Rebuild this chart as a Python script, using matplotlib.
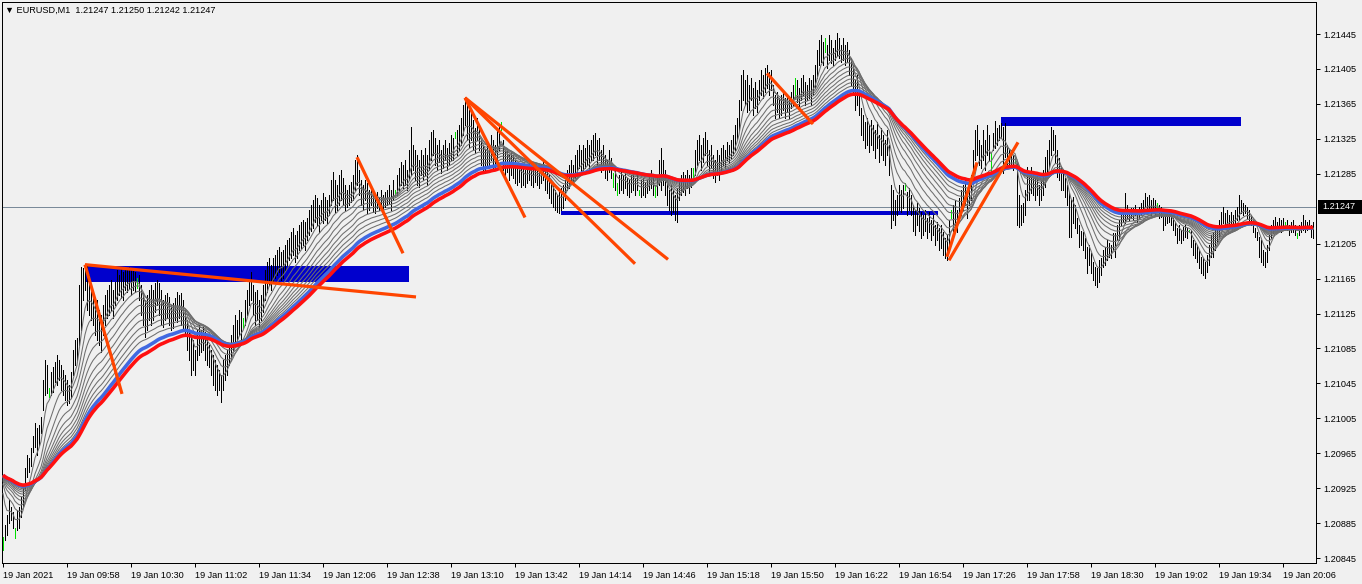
import numpy as np
import matplotlib
matplotlib.use("Agg")
import matplotlib.pyplot as plt
from matplotlib.patches import Rectangle
import matplotlib.transforms as mtransforms

# ---------------- data ----------------
TITLE = "\u25BC EURUSD,M1  1.21247 1.21250 1.21242 1.21247"
BID = 1.21247
PRICE_BASE = 1.20000
POINT = 0.00001

# bar highs / lows in points above PRICE_BASE (one per M1 bar, 09:26 ... 20:21)
HIGH_PTS = [
    869, 883, 894, 911, 903, 898, 879, 900, 903, 915,
    926, 948, 963, 960, 971, 985, 1000, 994, 997, 1006,
    1049, 1072, 1066, 1040, 1058, 1064, 1069, 1077, 1072, 1066,
    1060, 1055, 1049, 1043, 1058, 1083, 1095, 1097, 1158, 1178,
    1177, 1182, 1181, 1169, 1152, 1146, 1135, 1140, 1129, 1123,
    1135, 1146, 1152, 1158, 1163, 1152, 1161, 1175, 1169, 1177,
    1173, 1177, 1175, 1178, 1175, 1177, 1173, 1166, 1169, 1158,
    1148, 1140, 1146, 1152, 1158, 1152, 1160, 1163, 1160, 1152,
    1140, 1146, 1148, 1144, 1135, 1137, 1143, 1150, 1146, 1148,
    1140, 1129, 1118, 1106, 1100, 1095, 1083, 1106, 1112, 1106,
    1110, 1104, 1100, 1089, 1083, 1077, 1072, 1066, 1060, 1055,
    1072, 1077, 1083, 1089, 1100, 1112, 1123, 1118, 1129, 1127,
    1120, 1140, 1152, 1163, 1173, 1158, 1150, 1152, 1140, 1146,
    1158, 1175, 1184, 1189, 1181, 1189, 1192, 1198, 1201, 1195,
    1198, 1203, 1209, 1211, 1218, 1223, 1215, 1220, 1226, 1230,
    1232, 1230, 1234, 1243, 1249, 1255, 1261, 1257, 1249, 1255,
    1263, 1258, 1255, 1261, 1278, 1287, 1278, 1272, 1284, 1289,
    1280, 1272, 1266, 1272, 1276, 1284, 1301, 1306, 1289, 1278,
    1272, 1278, 1274, 1266, 1272, 1266, 1261, 1264, 1258, 1266,
    1261, 1264, 1266, 1272, 1266, 1278, 1266, 1284, 1292, 1299,
    1295, 1301, 1289, 1312, 1339, 1318, 1312, 1306, 1301, 1312,
    1306, 1314, 1306, 1324, 1333, 1335, 1326, 1318, 1324, 1312,
    1318, 1324, 1314, 1320, 1329, 1326, 1333, 1335, 1341, 1349,
    1364, 1373, 1366, 1358, 1355, 1347, 1337, 1349, 1341, 1324,
    1318, 1312, 1321, 1314, 1329, 1324, 1318, 1335, 1341, 1344,
    1324, 1312, 1314, 1306, 1310, 1306, 1301, 1295, 1297, 1292,
    1295, 1289, 1295, 1297, 1292, 1289, 1295, 1292, 1289, 1295,
    1301, 1295, 1289, 1284, 1278, 1272, 1266, 1261, 1264, 1269,
    1272, 1278, 1289, 1295, 1301, 1295, 1306, 1312, 1318, 1312,
    1318, 1314, 1324, 1318, 1324, 1329, 1332, 1324, 1326, 1312,
    1318, 1306, 1301, 1312, 1303, 1286, 1289, 1274, 1284, 1287,
    1284, 1289, 1280, 1278, 1284, 1287, 1280, 1284, 1266, 1278,
    1280, 1276, 1278, 1284, 1289, 1284, 1272, 1280, 1301, 1315,
    1301, 1289, 1278, 1266, 1272, 1266, 1261, 1269, 1278, 1284,
    1287, 1284, 1289, 1284, 1292, 1292, 1312, 1324, 1329, 1318,
    1326, 1333, 1324, 1312, 1318, 1306, 1301, 1312, 1306, 1315,
    1318, 1312, 1321, 1318, 1324, 1329, 1341, 1349, 1369, 1398,
    1404, 1392, 1398, 1387, 1395, 1383, 1390, 1381, 1392, 1404,
    1398, 1406, 1410, 1402, 1404, 1387, 1375, 1379, 1372, 1375,
    1379, 1372, 1375, 1369, 1379, 1387, 1395, 1392, 1383, 1395,
    1398, 1390, 1387, 1395, 1392, 1398, 1410, 1427, 1438, 1444,
    1436, 1440, 1432, 1444, 1438, 1429, 1438, 1446, 1440, 1432,
    1440, 1432, 1436, 1427, 1418, 1410, 1392, 1398, 1381, 1360,
    1352, 1344, 1349, 1341, 1347, 1341, 1335, 1344, 1329, 1337,
    1329, 1324, 1335, 1318, 1272, 1266, 1255, 1261, 1272, 1266,
    1272, 1274, 1264, 1269, 1261, 1249, 1243, 1252, 1246, 1241,
    1238, 1243, 1234, 1241, 1232, 1238, 1226, 1230, 1223, 1226,
    1218, 1211, 1215, 1232, 1243, 1249, 1255, 1243, 1257, 1266,
    1272, 1280, 1266, 1278, 1284, 1312, 1335, 1341, 1324, 1318,
    1335, 1324, 1341, 1329, 1309, 1332, 1346, 1337, 1341, 1343,
    1339, 1343, 1318, 1312, 1312, 1306, 1303, 1297, 1261, 1249,
    1252, 1266, 1293, 1281, 1293, 1287, 1280, 1284, 1272, 1278,
    1289, 1304, 1312, 1324, 1339, 1335, 1329, 1312, 1303, 1293,
    1286, 1280, 1272, 1263, 1255, 1258, 1249, 1234, 1226, 1220,
    1218, 1211, 1201, 1203, 1194, 1184, 1178, 1177, 1186, 1189,
    1198, 1201, 1209, 1206, 1203, 1217, 1217, 1226, 1232, 1241,
    1243, 1263, 1249, 1243, 1246, 1246, 1249, 1243, 1247, 1252,
    1255, 1263, 1258, 1261, 1255, 1257, 1255, 1252, 1249, 1247,
    1240, 1243, 1241, 1243, 1241, 1234, 1230, 1223, 1226, 1221,
    1224, 1226, 1223, 1221, 1221, 1209, 1206, 1203, 1198, 1190,
    1189, 1184, 1192, 1203, 1215, 1217, 1221, 1224, 1232, 1241,
    1247, 1240, 1243, 1238, 1241, 1238, 1243, 1247, 1261, 1255,
    1252, 1249, 1247, 1243, 1238, 1232, 1223, 1218, 1213, 1209,
    1198, 1195, 1203, 1215, 1226, 1232, 1236, 1230, 1234, 1232,
    1234, 1230, 1232, 1226, 1230, 1232, 1226, 1217, 1226, 1230,
    1238, 1232, 1230, 1232, 1226, 1230,
]
LOW_PTS = [
    854, 866, 871, 885, 889, 880, 868, 877, 879, 892,
    903, 923, 938, 944, 950, 966, 972, 963, 974, 988,
    1015, 1032, 1034, 1029, 1032, 1035, 1047, 1043, 1049, 1037,
    1032, 1026, 1020, 1023, 1028, 1055, 1066, 1072, 1089, 1106,
    1140, 1152, 1129, 1123, 1118, 1112, 1100, 1095, 1089, 1081,
    1100, 1112, 1120, 1123, 1129, 1120, 1135, 1140, 1146, 1143,
    1140, 1152, 1150, 1154, 1146, 1152, 1150, 1154, 1140, 1123,
    1112, 1098, 1106, 1118, 1112, 1118, 1127, 1135, 1123, 1112,
    1110, 1118, 1120, 1112, 1106, 1108, 1118, 1115, 1120, 1112,
    1106, 1100, 1083, 1072, 1055, 1060, 1055, 1072, 1077, 1081,
    1083, 1072, 1066, 1064, 1055, 1043, 1037, 1032, 1037, 1024,
    1037, 1049, 1055, 1066, 1072, 1083, 1089, 1095, 1100, 1095,
    1108, 1112, 1123, 1135, 1140, 1123, 1112, 1118, 1110, 1118,
    1127, 1140, 1150, 1158, 1152, 1161, 1166, 1169, 1173, 1163,
    1166, 1175, 1181, 1186, 1189, 1192, 1184, 1189, 1198, 1200,
    1203, 1198, 1209, 1215, 1220, 1223, 1230, 1226, 1218, 1232,
    1229, 1232, 1229, 1238, 1249, 1255, 1241, 1243, 1249, 1255,
    1249, 1243, 1247, 1249, 1253, 1255, 1266, 1272, 1261, 1249,
    1243, 1255, 1240, 1243, 1249, 1241, 1240, 1246, 1243, 1249,
    1243, 1247, 1249, 1252, 1243, 1255, 1258, 1261, 1266, 1272,
    1269, 1272, 1266, 1278, 1284, 1289, 1278, 1272, 1270, 1284,
    1278, 1284, 1272, 1289, 1301, 1306, 1295, 1289, 1299, 1286,
    1292, 1301, 1289, 1295, 1301, 1301, 1326, 1306, 1312, 1318,
    1329, 1341, 1324, 1316, 1324, 1312, 1309, 1324, 1312, 1295,
    1289, 1289, 1292, 1295, 1301, 1292, 1289, 1301, 1312, 1335,
    1289, 1284, 1287, 1278, 1284, 1280, 1274, 1272, 1276, 1270,
    1272, 1270, 1274, 1278, 1272, 1270, 1276, 1272, 1269, 1274,
    1278, 1266, 1263, 1257, 1252, 1247, 1243, 1241, 1240, 1243,
    1246, 1255, 1266, 1269, 1276, 1272, 1280, 1284, 1292, 1287,
    1289, 1292, 1295, 1292, 1301, 1301, 1306, 1295, 1301, 1287,
    1289, 1280, 1278, 1287, 1280, 1270, 1266, 1261, 1263, 1266,
    1263, 1269, 1261, 1258, 1264, 1266, 1261, 1266, 1261, 1258,
    1261, 1258, 1263, 1266, 1269, 1261, 1258, 1261, 1272, 1266,
    1272, 1261, 1249, 1243, 1238, 1241, 1232, 1230, 1255, 1261,
    1264, 1261, 1269, 1263, 1270, 1278, 1284, 1295, 1301, 1289,
    1299, 1306, 1295, 1287, 1292, 1280, 1276, 1284, 1278, 1289,
    1295, 1292, 1301, 1297, 1303, 1306, 1312, 1324, 1335, 1358,
    1369, 1364, 1356, 1358, 1369, 1352, 1360, 1356, 1369, 1375,
    1372, 1379, 1383, 1375, 1381, 1364, 1349, 1356, 1349, 1352,
    1358, 1349, 1356, 1349, 1360, 1364, 1372, 1367, 1360, 1369,
    1375, 1364, 1369, 1372, 1364, 1375, 1383, 1395, 1410, 1413,
    1410, 1424, 1406, 1415, 1412, 1410, 1415, 1421, 1418, 1413,
    1415, 1410, 1413, 1398, 1387, 1375, 1358, 1364, 1352, 1329,
    1324, 1314, 1318, 1310, 1318, 1312, 1303, 1314, 1299, 1306,
    1301, 1295, 1306, 1284, 1223, 1232, 1226, 1238, 1243, 1241,
    1246, 1266, 1238, 1243, 1238, 1220, 1215, 1226, 1220, 1211,
    1215, 1220, 1211, 1218, 1209, 1215, 1203, 1209, 1198, 1200,
    1192, 1189, 1186, 1203, 1234, 1220, 1226, 1218, 1230, 1238,
    1243, 1249, 1234, 1249, 1255, 1284, 1301, 1306, 1295, 1292,
    1301, 1289, 1306, 1301, 1287, 1312, 1315, 1318, 1324, 1326,
    1286, 1304, 1292, 1295, 1293, 1289, 1297, 1226, 1224, 1226,
    1230, 1238, 1255, 1255, 1263, 1261, 1255, 1261, 1249, 1255,
    1261, 1270, 1284, 1293, 1306, 1312, 1297, 1281, 1278, 1266,
    1266, 1258, 1249, 1213, 1213, 1229, 1223, 1217, 1201, 1203,
    1198, 1189, 1171, 1181, 1171, 1163, 1158, 1155, 1161, 1169,
    1178, 1181, 1186, 1190, 1189, 1198, 1190, 1209, 1209, 1226,
    1230, 1229, 1234, 1232, 1234, 1232, 1238, 1230, 1234, 1238,
    1240, 1247, 1240, 1241, 1238, 1241, 1238, 1247, 1234, 1236,
    1221, 1226, 1229, 1230, 1226, 1221, 1215, 1206, 1209, 1206,
    1209, 1213, 1211, 1218, 1201, 1192, 1189, 1184, 1177, 1171,
    1169, 1166, 1173, 1181, 1190, 1190, 1198, 1206, 1213, 1226,
    1229, 1224, 1226, 1224, 1226, 1224, 1226, 1232, 1232, 1240,
    1238, 1240, 1234, 1232, 1226, 1218, 1213, 1209, 1190, 1184,
    1181, 1178, 1184, 1198, 1211, 1217, 1221, 1218, 1223, 1218,
    1221, 1226, 1221, 1215, 1218, 1218, 1215, 1211, 1215, 1218,
    1221, 1218, 1221, 1223, 1213, 1211,
]
GREEN_BARS = [0, 6, 23, 67, 120, 196, 226, 249, 305, 307, 318, 326, 345,
              396, 411, 451, 474, 494, 506, 577, 593, 641, 647]

EMA_SEED = 1.20942
GRAY_PERIODS = [6, 12, 18, 24, 30, 36, 42, 48, 54, 60]
BLUE_PERIOD = 68
RED_PERIOD = 75

X_LABELS = ["19 Jan 2021", "19 Jan 09:58", "19 Jan 10:30", "19 Jan 11:02",
            "19 Jan 11:34", "19 Jan 12:06", "19 Jan 12:38", "19 Jan 13:10",
            "19 Jan 13:42", "19 Jan 14:14", "19 Jan 14:46", "19 Jan 15:18",
            "19 Jan 15:50", "19 Jan 16:22", "19 Jan 16:54", "19 Jan 17:26",
            "19 Jan 17:58", "19 Jan 18:30", "19 Jan 19:02", "19 Jan 19:34",
            "19 Jan 20:06"]
X_LABEL_STEP = 32  # bars between time labels
# 1.21245 is hidden behind the bid label in the reference
Y_TICKS = [1.20845, 1.20885, 1.20925, 1.20965, 1.21005, 1.21045, 1.21085,
           1.21125, 1.21165, 1.21205, 1.21285, 1.21325, 1.21365,
           1.21405, 1.21445]

# drawn objects: (bar index, price)
TREND_LINES = [
    ((41.0, 1.21181), (59.5, 1.21033)),
    ((41.0, 1.21181), (206.5, 1.21144)),
    ((177.0, 1.21304), (200.0, 1.21194)),
    ((231.0, 1.21372), (261.0, 1.21235)),
    ((231.0, 1.21372), (316.0, 1.21182)),
    ((231.0, 1.21372), (332.5, 1.21187)),
    ((382.0, 1.21400), (405.0, 1.21342)),
    ((472.0, 1.21190), (487.0, 1.21298)),
    ((473.0, 1.21186), (507.5, 1.21321)),
]
ZONES = [  # (start bar, end bar, low price, high price)
    (41.5, 203.0, 1.21161, 1.21179),
    (279.0, 467.5, 1.21238, 1.21242),
    (499.0, 619.0, 1.21340, 1.21350),
]

# ---------------- derived ----------------
high = PRICE_BASE + np.array(HIGH_PTS) * POINT
low = PRICE_BASE + np.array(LOW_PTS) * POINT
assert len(high) == len(low)
n = len(high)
idx = np.arange(n)
price = (high + low) / 2


def ema(values, period, seed):
    a = 2.0 / (period + 1)
    out = np.empty(len(values))
    e = seed
    for k, v in enumerate(values):
        e = e + a * (v - e)
        out[k] = e
    return out


# ---------------- figure ----------------
W, H = 1362, 584
BG = "#f0f0f0"
fig = plt.figure(figsize=(W / 100, H / 100), dpi=100, facecolor=BG)
L, R, T, B = 2, 1316, 2, 563
ax = fig.add_axes([L / W, (H - B) / H, (R - L) / W, (B - T) / H])
ax.set_facecolor(BG)
PX = 0.72  # one pixel in points

ax.set_xlim(-0.5, 656.5)
ax.set_ylim(1.208394, 1.214817)

# zones (behind)
for x0, x1, y0, y1 in ZONES:
    ax.add_patch(Rectangle((x0, y0), x1 - x0, y1 - y0, facecolor="#0000cd",
                           edgecolor="none", zorder=1))

ax.axhline(BID, color="#7a8a99", lw=PX, zorder=1.5)

colors = ["#00e000" if k in GREEN_BARS else "black" for k in range(n)]
ax.vlines(idx, low, high, colors=colors, lw=PX, zorder=2, antialiased=False)

for p in GRAY_PERIODS:
    ax.plot(idx, ema(price, p, EMA_SEED), color="#6e6e6e", lw=0.75, zorder=3)
ax.plot(idx, ema(price, BLUE_PERIOD, EMA_SEED), color="#4169e1", lw=2.6,
        zorder=4, solid_capstyle="butt")
ax.plot(idx, ema(price, RED_PERIOD, EMA_SEED), color="#ff1010", lw=2.6,
        zorder=5, solid_capstyle="butt")

for (xa, ya), (xb, yb) in TREND_LINES:
    ax.plot([xa, xb], [ya, yb], color="#ff4500", lw=2.3, zorder=6,
            solid_capstyle="butt")

# axes styling
for s in ax.spines.values():
    s.set_color("black")
    s.set_linewidth(PX)

FONT = ["Liberation Sans", "DejaVu Sans"]
ax.yaxis.tick_right()
ax.set_yticks(Y_TICKS)
ax.set_yticklabels([f"{v:.5f}" for v in Y_TICKS], fontsize=6.6, family=FONT)
ax.tick_params(axis="y", direction="out", length=3, width=PX, pad=2,
               colors="black")

xt = np.arange(len(X_LABELS)) * X_LABEL_STEP
ax.set_xticks(xt)
ax.set_xticklabels(X_LABELS, fontsize=6.6, family=FONT)
for lbl in ax.get_xticklabels():
    lbl.set_horizontalalignment("left")
ax.tick_params(axis="x", direction="out", length=3, width=PX, pad=2.5,
               colors="black")

# bid price label on the axis: black box to the figure edge + white text
trans = mtransforms.blended_transform_factory(fig.transFigure, ax.transData)
box_h = 0.000082
ax.add_patch(Rectangle((1318 / W, BID - box_h), (W - 1318) / W, 2 * box_h,
                       transform=trans, facecolor="black", edgecolor="none",
                       clip_on=False, zorder=10))
ax.text(1322 / W, BID, "1.21247", transform=trans, ha="left", va="center",
        fontsize=6.6, family=FONT, color="white", zorder=11, clip_on=False)

fig.text(5 / W, 1 - 10 / H, TITLE, fontsize=6.6, family=FONT, color="black",
         ha="left", va="center")

fig.savefig("out.png", dpi=100, facecolor=BG)
